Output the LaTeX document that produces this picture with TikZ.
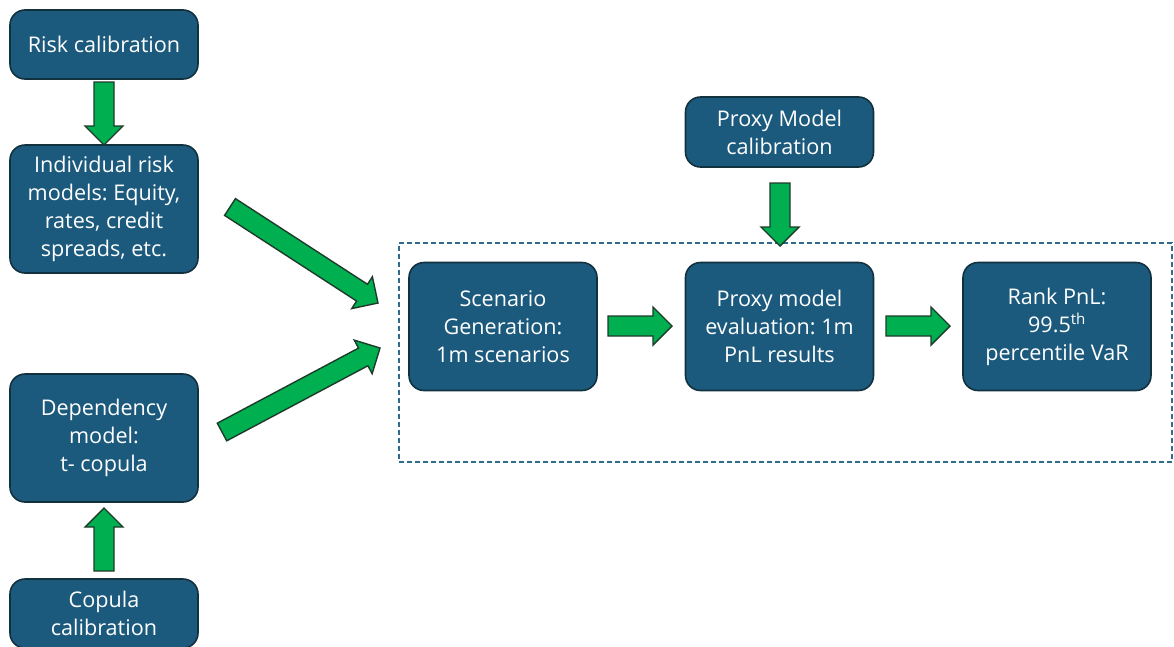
\documentclass[tikz,border=0pt]{standalone}
\usepackage{fontspec}
\setmainfont{Open Sans}
\frenchspacing
\usetikzlibrary{calc}
\definecolor{boxfill}{HTML}{1B5A7D}
\definecolor{boxline}{HTML}{12313F}
\definecolor{arrgreen}{HTML}{00B050}
\definecolor{arrline}{HTML}{1E3B2A}
\definecolor{dashcol}{HTML}{2F6B8C}
\tikzset{
  flowbox/.style={draw=boxline, line width=1.6pt, fill=boxfill, rounded corners=15pt,
    text=white, align=center, minimum width=188pt, inner sep=0pt,
    font=\fontsize{21.6}{28}\selectfont},
  shortbox/.style={flowbox, minimum height=69pt},
  tallbox/.style={flowbox, minimum height=128pt},
  groupframe/.style={draw=dashcol, line width=1.2pt, dash pattern=on 5pt off 3pt, inner sep=0pt},
  blockarr/.style={draw=arrline, fill=arrgreen, line width=1.4pt, line join=miter}
}
\newcommand{\blockarrow}[2]{%
  \coordinate (h-#1) at ($(#2)!19pt!(#1)$);
  \draw[blockarr] ($(#1)!10pt!90:(#2)$) -- ($(h-#1)!10pt!90:(#2)$) -- ($(h-#1)!19pt!90:(#2)$)
    -- (#2) -- ($(h-#1)!19pt!-90:(#2)$) -- ($(h-#1)!10pt!-90:(#2)$) -- ($(#1)!10pt!-90:(#2)$) -- cycle;}
\begin{document}
\begin{tikzpicture}[x=1pt,y=1pt]
\useasboundingbox (0,0) rectangle (1174,-646);
\node[groupframe, minimum width=773pt, minimum height=219pt] (grp) at (785.5,-352.5) {};
\node[shortbox] (rc) at (104,-44.5) {Risk calibration};
\node[tallbox] (irm) at (104,-209) {Individual risk\\models: Equity,\\rates, credit\\spreads, etc.};
\node[tallbox] (dep) at (104,-438) {Dependency\\model:\\t- copula};
\node[shortbox] (cop) at (104,-613.5) {Copula\\calibration};
\node[shortbox, minimum height=70pt] (pmc) at (779.5,-132) {Proxy Model\\calibration};
\node[tallbox] (sg) at (503,-326.5) {Scenario\\Generation:\\1m scenarios};
\node[tallbox] (pme) at (779.5,-326.5) {Proxy model\\evaluation: 1m\\PnL results};
\node[tallbox] (rank) at (1057,-326.5) {Rank PnL:\\99.5\textsuperscript{th}\\percentile VaR};
% arrow ends
\coordinate (s1) at (104,-82);  \coordinate (t1) at (104,-145);
\coordinate (s2) at (104,-571); \coordinate (t2) at (104,-508);
\coordinate (s3) at (230,-207); \coordinate (t3) at (378,-303);
\coordinate (s4) at (222,-432); \coordinate (t4) at (380,-348);
\coordinate (s5) at (780,-183); \coordinate (t5) at (780,-246);
\coordinate (s6) at (608,-326); \coordinate (t6) at (672,-326);
\coordinate (s7) at (886,-326); \coordinate (t7) at (950,-326);
\blockarrow{s1}{t1}
\blockarrow{s2}{t2}
\blockarrow{s3}{t3}
\blockarrow{s4}{t4}
\blockarrow{s5}{t5}
\blockarrow{s6}{t6}
\blockarrow{s7}{t7}
\end{tikzpicture}
\end{document}
